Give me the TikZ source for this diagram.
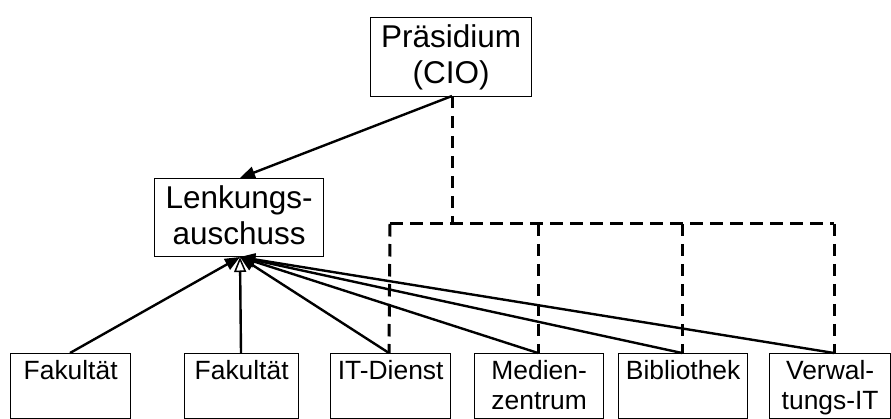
\documentclass[tikz,border=0pt]{standalone}
\usepackage{fontspec}
\setmainfont{Liberation Sans}
\usetikzlibrary{arrows.meta}
\begin{document}
\begin{tikzpicture}[x=1pt,y=-1pt,
  unit/.style={draw=black,line width=1.3pt,anchor=north west,inner sep=0pt,align=center},
  bigtext/.style={font=\fontsize{31.5}{36}\selectfont},
  smalltext/.style={font=\fontsize{26.4}{30}\selectfont},
  report/.style={line width=2.4pt,-{Triangle[length=15pt,width=12pt]}},
  openreport/.style={line width=2.4pt,-{Triangle[open,length=15pt,width=12pt,line width=1.5pt,fill=white]}},
  staff/.style={line width=3pt,dash pattern=on 12.5pt off 7.5pt}]
\useasboundingbox (0,0) rectangle (891,419);

% top level
\node[unit,bigtext,minimum width=161pt,minimum height=79pt] (praes) at (370,17)
  {\rule{0pt}{28pt}Präsidium\\ (CIO)\strut};
\node[unit,bigtext,minimum width=169pt,minimum height=78pt] (lenk) at (154,178)
  {\fontsize{31.5}{34}\selectfont\rule{0pt}{29pt}Lenkungs-\\auschuss\strut};

% units
\node[unit,smalltext,minimum width=120pt,minimum height=65pt] (fak1) at (10,353)
  {\rule{0pt}{25pt}Fakultät\\\strut};
\node[unit,smalltext,minimum width=114pt,minimum height=65pt] (fak2) at (184,353)
  {\rule{0pt}{25pt}Fakultät\\\strut};
\node[unit,smalltext,minimum width=120pt,minimum height=65pt] (itd) at (330,353)
  {\rule{0pt}{25pt}IT-Dienst\\\strut};
\node[unit,smalltext,minimum width=129pt,minimum height=65pt] (med) at (474,353)
  {\rule{0pt}{25pt}Medien-\\zentrum\strut};
\node[unit,smalltext,minimum width=129pt,minimum height=65pt] (bib) at (618,353)
  {\rule{0pt}{25pt}Bibliothek\\\strut};
\node[unit,smalltext,minimum width=121pt,minimum height=65pt] (verw) at (769,353)
  {\rule{0pt}{25pt}Verwal-\\tungs-IT\strut};

% anchor points of the connectors
\coordinate (ptop) at (452,96);
\coordinate (ltop) at (240,178);
\coordinate (lbot) at (240,257);
\coordinate (split) at (452,224);
\coordinate (d1) at (390,224);
\coordinate (d2) at (538,224);
\coordinate (d3) at (682,224);
\coordinate (d4) at (834,224);
\coordinate (u1) at (70,353);
\coordinate (u2) at (241,353);
\coordinate (u3) at (389,353);
\coordinate (u4) at (538,353);
\coordinate (u5) at (682,353);
\coordinate (u6) at (834,353);

% staff lines (dashed)
\draw[staff] (ptop) -- (split);
\draw[staff] (d1) -- (d4);
\draw[staff] (d1) -- (u3);
\draw[staff] (d2) -- (u4);
\draw[staff] (d3) -- (u5);
\draw[staff] (d4) -- (u6);

% reporting lines
\draw[report] (ptop) -- (ltop);
\foreach \u in {u1,u3,u4,u5,u6}
  \draw[report] (\u) -- (lbot);
\draw[openreport] (u2) -- (lbot);
\end{tikzpicture}
\end{document}
